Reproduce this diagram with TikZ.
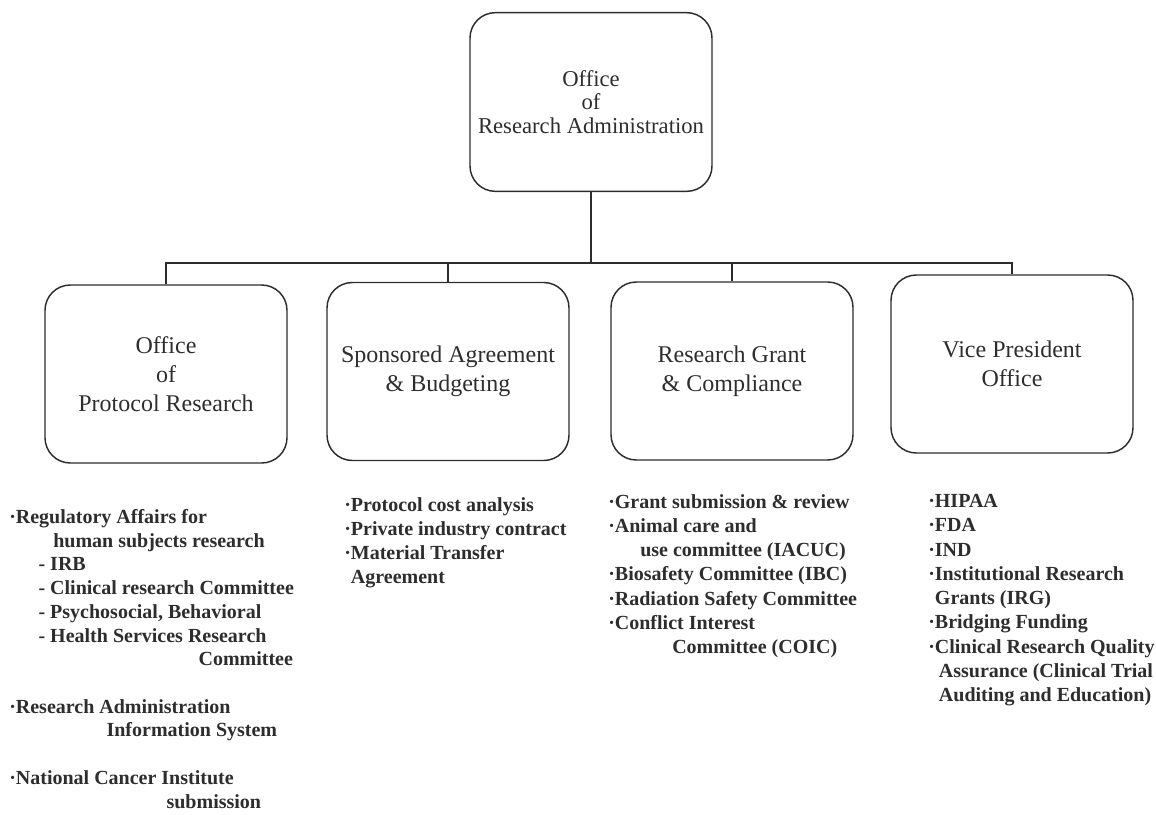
\documentclass[tikz,border=0pt]{standalone}
\usepackage{fontspec}
\setmainfont{Liberation Serif}
\definecolor{inkgray}{RGB}{45,45,45}
\tikzset{
  unitbox/.style={draw=inkgray, line width=1.1pt, rounded corners=19pt, minimum width=181.5pt, minimum height=133.5pt, align=center, inner sep=0pt, text=inkgray, font=\fontsize{18}{21.5}\selectfont},
  topbox/.style={unitbox, minimum height=134pt, font=\fontsize{17}{17.5}\selectfont},
  duties/.style={anchor=north west, inner sep=0.75pt, align=left, text=inkgray, font=\fontsize{15}{18.2}\selectfont\bfseries},
  link/.style={draw=inkgray, line width=1.1pt}
}

\begin{document}
\begin{tikzpicture}[x=0.75pt,y=0.75pt,yscale=-1,xscale=1]
\useasboundingbox (0,0) rectangle (1156,814);

%Shape: Rounded Rect (top)
\node [topbox] (ora) at (591,102) {Office\\of\\Research Administration};
%Shape: Rounded Rect
\node [unitbox] (opr) at (166,374) {Office\\of\\Protocol Research};
%Shape: Rounded Rect
\node [unitbox] (sab) at (448,371.5) {Sponsored Agreement\\\& Budgeting};
%Shape: Rounded Rect
\node [unitbox] (rgc) at (732,371) {Research Grant\\\& Compliance};
%Shape: Rounded Rect
\node [unitbox] (vpo) at (1012,364) {Vice President\\Office};

%Straight Lines
\coordinate (bus) at (591,263);
\draw [link] (ora.south) -- (ora.south |- bus);
\draw [link] (opr.north) -- (opr.north |- bus) -- (vpo.north |- bus) -- (vpo.north);
\draw [link] (sab.north) -- (sab.north |- bus);
\draw [link] (rgc.north) -- (rgc.north |- bus);

% Text Node
\node [duties, font=\fontsize{15}{17.8}\selectfont\bfseries] (oprlist) at (8,508) {·Regulatory Affairs for\\
\hspace*{33pt}human subjects research\\
\hspace*{22pt}- IRB\\
\hspace*{22pt}- Clinical research Committee\\
\hspace*{22pt}- Psychosocial, Behavioral\\
\hspace*{22pt}- Health Services Research\\
\hspace*{142pt}Committee\\[17.8pt]
·Research Administration\\
\hspace*{73pt}Information System\\[17.8pt]
·National Cancer Institute\\
\hspace*{118pt}submission};

% Text Node
\node [duties] (sablist) at (343,496) {·Protocol cost analysis\\
·Private industry contract\\
·Material Transfer\\
\phantom{·}Agreement};

% Text Node
\node [duties] (rgclist) at (607,493) {·Grant submission \& review\\
·Animal care and\\
\hspace*{24pt}use committee (IACUC)\\
·Biosafety Committee (IBC)\\
·Radiation Safety Committee\\
·Conflict Interest\\
\hspace*{48pt}Committee (COIC)};

% Text Node
\node [duties] (vpolist) at (927,493) {·HIPAA\\
·FDA\\
·IND\\
·Institutional Research\\
\phantom{·}Grants (IRG)\\
·Bridging Funding\\
·Clinical Research Quality\\
\phantom{·}\hspace*{3pt}Assurance (Clinical Trial\\
\phantom{·}\hspace*{3pt}Auditing and Education)};

\end{tikzpicture}
\end{document}
